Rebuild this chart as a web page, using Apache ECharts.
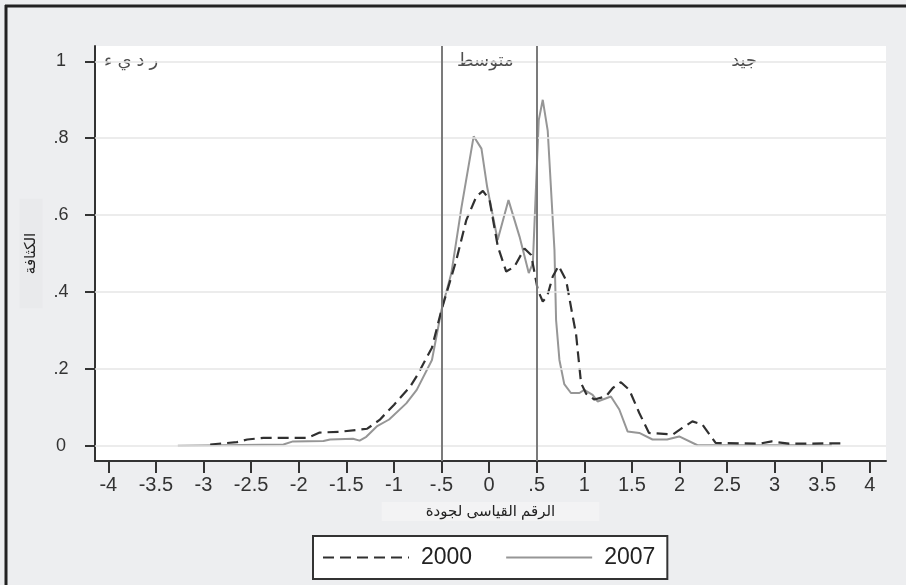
<!DOCTYPE html>
<html>
<head>
<meta charset="utf-8">
<script src="https://cdn.jsdelivr.net/npm/echarts@6/dist/echarts.min.js"></script>
<style>
  html, body { margin: 0; padding: 0; background: #edeef0; }
  #chart { width: 906px; height: 585px; }
</style>
</head>
<body>
<div id="chart"></div>
<script>
// Kernel density of the quality index, 2000 vs 2007
const x2000 = [-2.93, -2.65, -2.54, -2.37, -1.91, -1.78, -1.57, -1.28, -1.15, -1.0, -0.83, -0.75, -0.6, -0.5,
  -0.344, -0.239, -0.134, -0.065, 0.005, 0.092, 0.18, 0.267, 0.372, 0.442, 0.512, 0.564, 0.61, 0.669, 0.73,
  0.81, 0.872, 0.914, 0.966, 1.02, 1.106, 1.228, 1.3, 1.385, 1.473, 1.578, 1.68, 1.93, 2.03, 2.136, 2.24,
  2.38, 2.835, 2.97, 3.15, 3.73];
const y2000 = [0.003, 0.009, 0.016, 0.02, 0.02, 0.034, 0.036, 0.044, 0.067, 0.106, 0.153, 0.185, 0.255, 0.353,
  0.483, 0.587, 0.648, 0.663, 0.639, 0.518, 0.453, 0.466, 0.513, 0.496, 0.405, 0.375, 0.388, 0.44, 0.468,
  0.43, 0.345, 0.29, 0.163, 0.135, 0.12, 0.128, 0.15, 0.165, 0.145, 0.085, 0.033, 0.029, 0.046, 0.063, 0.055,
  0.007, 0.005, 0.011, 0.005, 0.006];

const x2007 = [-3.27, -2.16, -2.06, -1.74, -1.67, -1.43, -1.36, -1.29, -1.18, -1.05, -0.87, -0.76, -0.6, -0.5,
  -0.396, -0.29, -0.162, -0.08, -0.02, 0.09, 0.204, 0.32, 0.417, 0.46, 0.522, 0.564, 0.616, 0.687, 0.704,
  0.739, 0.79, 0.86, 0.949, 1.0, 1.088, 1.14, 1.28, 1.368, 1.455, 1.578, 1.717, 1.87, 1.997, 2.19, 3.6];
const y2007 = [0.0, 0.003, 0.011, 0.012, 0.016, 0.018, 0.013, 0.023, 0.05, 0.068, 0.11, 0.145, 0.223, 0.353,
  0.449, 0.62, 0.805, 0.773, 0.673, 0.535, 0.639, 0.544, 0.449, 0.475, 0.847, 0.9, 0.82, 0.509, 0.327,
  0.223, 0.16, 0.137, 0.137, 0.145, 0.132, 0.115, 0.128, 0.094, 0.037, 0.033, 0.016, 0.016, 0.024, 0.001, 0.001];

const xTicks = [-4, -3.5, -3, -2.5, -2, -1.5, -1, -0.5, 0, 0.5, 1, 1.5, 2, 2.5, 3, 3.5, 4];
const xTickLabels = ['-4', '-3.5', '-3', '-2.5', '-2', '-1.5', '-1', '-.5', '0', '.5', '1', '1.5', '2', '2.5', '3', '3.5', '4'];
const yTicks = [0, 0.2, 0.4, 0.6, 0.8, 1];
const yTickLabels = ['0', '.2', '.4', '.6', '.8', '1'];

// category cut-offs and their names along the top line
const cutoffs = [-0.5, 0.5];
const regionNames = ['ر د ي ء', 'متوسط', 'جيد'];
const regionX = [-3.76, -0.04, 2.68];
const regionY = [1, 1, 1];

const FONT = '"Liberation Sans", "DejaVu Sans", Arial, sans-serif';

function pairs(xs, ys) { return xs.map((x, i) => [x, ys[i]]); }
function lookup(ticks, labels, v) {
  for (let i = 0; i < ticks.length; i++) if (Math.abs(ticks[i] - v) < 1e-9) return labels[i];
  return '';
}

const chart = echarts.init(document.getElementById('chart'), null, { renderer: 'canvas' });

const regionPads = [[3, 8, 3, 8], [3, 7, 3, 7], [3, 24, 3, 24]];

chart.setOption({
  animation: false,
  backgroundColor: '#edeef0',
  textStyle: { fontFamily: FONT },
  graphic: [
    { type: 'line', shape: { x1: 5, y1: 6, x2: 906, y2: 6 }, style: { stroke: '#222', lineWidth: 3 } },
    { type: 'line', shape: { x1: 6, y1: 5, x2: 6, y2: 585 }, style: { stroke: '#222', lineWidth: 3 } }
  ],
  grid: {
    left: 95, right: 20, top: 46, bottom: 124,
    show: true, backgroundColor: '#ffffff', borderWidth: 0
  },
  legend: {
    data: ['2000', '2007'],
    left: 313, top: 536,
    orient: 'horizontal',
    itemWidth: 86, itemHeight: 14, itemGap: 33,
    padding: [10, 12, 10, 9],
    backgroundColor: '#ffffff',
    borderColor: '#333', borderWidth: 2, borderRadius: 0,
    itemStyle: { opacity: 0 },
    textStyle: { fontSize: 23, color: '#222', fontFamily: FONT, padding: [0, 0, 0, 7] }
  },
  xAxis: {
    type: 'value', min: -4.14, max: 4.17,
    name: 'الرقم القياسى لجودة',
    nameLocation: 'middle', nameGap: 41,
    nameTextStyle: {
      fontSize: 15, color: '#222', fontFamily: FONT,
      backgroundColor: '#f3f3f4', padding: [2, 44, 2, 44]
    },
    axisLine: { onZero: false, lineStyle: { color: '#333', width: 2 } },
    axisTick: { customValues: xTicks, length: 12, lineStyle: { color: '#333', width: 2 } },
    axisLabel: {
      customValues: xTicks, margin: 14, fontSize: 20, color: '#333', fontFamily: FONT,
      formatter: v => lookup(xTicks, xTickLabels, v)
    },
    splitLine: { show: false }
  },
  yAxis: {
    type: 'value', min: -0.04, max: 1.04,
    name: 'الكثافة',
    nameLocation: 'middle', nameRotate: 90, nameGap: 52,
    nameTextStyle: {
      fontSize: 15, color: '#222', fontFamily: FONT,
      backgroundColor: '#e9eaec', padding: [4, 34, 4, 34]
    },
    axisLine: { onZero: false, lineStyle: { color: '#333', width: 2 } },
    axisTick: { customValues: yTicks, length: 10, lineStyle: { color: '#333', width: 2 } },
    axisLabel: {
      customValues: yTicks, margin: 34, align: 'center', fontSize: 18, color: '#333', fontFamily: FONT,
      formatter: v => lookup(yTicks, yTickLabels, v)
    },
    splitLine: { show: false }
  },
  series: [
    {
      // horizontal grid lines at the y ticks
      name: 'grid', type: 'line', data: [], z: 1, silent: true,
      markLine: {
        silent: true, symbol: ['none', 'none'], animation: false,
        label: { show: false },
        lineStyle: { color: '#e6e6e6', width: 1.5, type: 'solid' },
        data: yTicks.map(v => ({ yAxis: v }))
      }
    },
    {
      // category cut-offs
      name: 'cutoffs', type: 'line', data: [], z: 2, silent: true,
      markLine: {
        silent: true, symbol: ['none', 'none'], animation: false,
        label: { show: false },
        lineStyle: { color: '#7b7b7b', width: 2, type: 'solid' },
        data: cutoffs.map(v => ({ xAxis: v }))
      }
    },
    {
      name: 'regions', type: 'scatter', z: 4, silent: true,
      symbolSize: 0,
      data: regionX.map((x, i) => ({
        value: [x, regionY[i]],
        label: { formatter: regionNames[i], padding: regionPads[i] }
      })),
      label: {
        show: true, position: 'inside', fontSize: 18, color: '#222', fontFamily: FONT,
        backgroundColor: '#ffffff'
      }
    },
    {
      name: '2007', type: 'line', z: 3,
      data: pairs(x2007, y2007),
      showSymbol: false, symbol: 'none',
      lineStyle: { color: '#969696', width: 2, type: 'solid' },
      itemStyle: { color: '#969696' }
    },
    {
      name: '2000', type: 'line', z: 3,
      data: pairs(x2000, y2000),
      showSymbol: false, symbol: 'none',
      lineStyle: { color: '#303030', width: 2.2, type: [11, 6] },
      itemStyle: { color: '#303030' }
    }
  ]
});
</script>
</body>
</html>
